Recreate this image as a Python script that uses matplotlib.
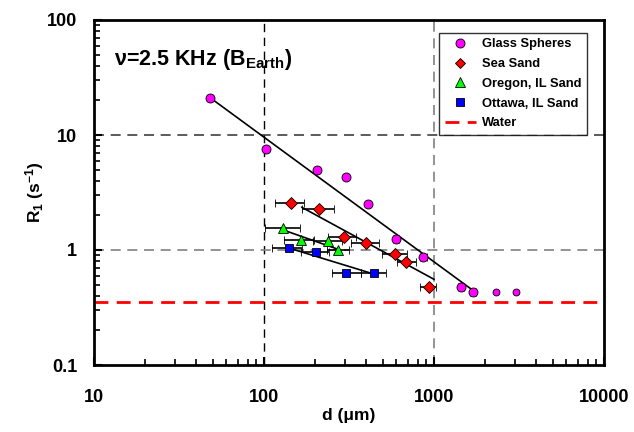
import matplotlib
matplotlib.use("Agg")
import matplotlib.pyplot as plt
from matplotlib.lines import Line2D
from matplotlib.ticker import LogLocator, NullFormatter, FixedLocator, FixedFormatter

plt.rcParams['font.family'] = ['Liberation Sans', 'DejaVu Sans']
plt.rcParams['font.weight'] = 'bold'
plt.rcParams['mathtext.fontset'] = 'custom'
plt.rcParams['mathtext.rm'] = 'Liberation Sans:bold'
plt.rcParams['mathtext.bf'] = 'Liberation Sans:bold'
plt.rcParams['mathtext.it'] = 'Liberation Sans:bold'
plt.rcParams['mathtext.default'] = 'bf'

# ---- data ----
glass_d = [48.2, 103, 204, 303, 408, 597, 865, 1439, 1707]
glass_r = [21.1, 7.55, 4.99, 4.31, 2.51, 1.25, 0.87, 0.473, 0.434]
glass_err = [0, 0, 0, 0, 0, 25, 40, 60, 70]
glass_extra_d = [2310, 3035]
glass_extra_r = [0.434, 0.434]

sea_d = [144, 212, 294, 397, 586, 684, 935]
sea_r = [2.58, 2.27, 1.29, 1.14, 0.929, 0.792, 0.477]
sea_lo = [28, 45, 57, 74, 89, 81, 111]
sea_hi = [27, 45, 56, 80, 111, 103, 98]

oregon_d = [130, 166, 238, 272]
oregon_r = [1.55, 1.23, 1.19, 1.0]
oregon_lo = [29, 34, 44, 37]
oregon_hi = [33, 30, 50, 43]

ottawa_d = [140, 203, 305, 443]
ottawa_r = [1.04, 0.955, 0.635, 0.635]
ottawa_lo = [28, 37, 53, 73]
ottawa_hi = [27, 37, 65, 81]

water_r = 0.35

fit_glass_x = [48.2, 1683]
fit_glass_y = [21.1, 0.449]
fit_sea_x = [167, 1000]
fit_sea_y = [2.35, 0.556]
fit_oregon_x = [127, 275]
fit_oregon_y = [1.51, 1.01]
fit_ottawa_x = [140, 447]
fit_ottawa_y = [1.04, 0.615]

fig = plt.figure(figsize=(6.34, 4.32), dpi=100)
ax = fig.add_axes([94/634, 1-365/432, 510/634, 345/432])
ax.set_xscale('log')
ax.set_yscale('log')
ax.set_xlim(10, 10000)
ax.set_ylim(0.1, 100)

# grid lines
ax.axvline(100, color='black', lw=1, ls=(0, (6, 4)), zorder=1)
ax.axvline(1000, color='#808080', lw=1.2, ls=(0, (6, 4)), zorder=1)
ax.axhline(10, color='#404040', lw=1.2, ls=(0, (6, 4)), zorder=1)
ax.axhline(1, color='#808080', lw=1.2, ls=(0, (6, 4)), zorder=1)

# water
ax.axhline(water_r, color='#ff0000', lw=2, ls=(0, (5, 3)), zorder=2)

# fit lines
for fx, fy in [(fit_glass_x, fit_glass_y), (fit_sea_x, fit_sea_y),
               (fit_oregon_x, fit_oregon_y), (fit_ottawa_x, fit_ottawa_y)]:
    ax.plot(fx, fy, color='black', lw=1.2, zorder=3)

ebkw = dict(ecolor='black', elinewidth=1.2, capsize=3, capthick=1.2, ls='none', zorder=4)

ax.errorbar(glass_d, glass_r, xerr=glass_err, fmt='o', ms=6.5, mfc='#ff00ff', mec='black',
            mew=0.6, **ebkw)
ax.plot(glass_extra_d, glass_extra_r, 'o', ms=5, mfc='#ff00ff', mec='black', mew=0.6, zorder=5)
ax.errorbar(sea_d, sea_r, xerr=[sea_lo, sea_hi], fmt='D', ms=6, mfc='#ff0000', mec='black',
            mew=0.6, **ebkw)
ax.errorbar(oregon_d, oregon_r, xerr=[oregon_lo, oregon_hi], fmt='^', ms=7, mfc='#00ff00',
            mec='black', mew=0.6, **ebkw)
ax.errorbar(ottawa_d, ottawa_r, xerr=[ottawa_lo, ottawa_hi], fmt='s', ms=6, mfc='#0000ff',
            mec='black', mew=0.6, **ebkw)

# ticks
ax.xaxis.set_major_locator(FixedLocator([10, 100, 1000, 10000]))
ax.xaxis.set_major_formatter(FixedFormatter(['10', '100', '1000', '10000']))
ax.yaxis.set_major_locator(FixedLocator([0.1, 1, 10, 100]))
ax.yaxis.set_major_formatter(FixedFormatter(['0.1', '1', '10', '100']))
ax.xaxis.set_minor_locator(LogLocator(base=10, subs=range(2, 10)))
ax.yaxis.set_minor_locator(LogLocator(base=10, subs=range(2, 10)))
ax.xaxis.set_minor_formatter(NullFormatter())
ax.yaxis.set_minor_formatter(NullFormatter())
ax.tick_params(which='major', direction='in', length=6, width=1.5, labelsize=13)
ax.tick_params(which='minor', direction='in', length=4, width=1.2)
ax.tick_params(axis='x', which='major', pad=17)
ax.tick_params(axis='y', which='major', pad=12)
ax.tick_params(right=False, top=False)
for s in ax.spines.values():
    s.set_linewidth(2)

ax.set_xlabel('d (μm)', fontsize=12.5, fontweight='bold', labelpad=2)
ax.set_ylabel('R$_1$ (s$^{-1}$)', fontsize=12.5, fontweight='bold', labelpad=1)

ax.text(0.04, 0.885, 'ν=2.5 KHz (B$_{Earth}$)', transform=ax.transAxes,
        fontsize=15.5, fontweight='bold', va='center', ha='left')

handles = [
    Line2D([], [], marker='o', ls='none', ms=6.5, mfc='#ff00ff', mec='black', mew=0.6),
    Line2D([], [], marker='D', ls='none', ms=5.5, mfc='#ff0000', mec='black', mew=0.6),
    Line2D([], [], marker='^', ls='none', ms=6.5, mfc='#00ff00', mec='black', mew=0.6),
    Line2D([], [], marker='s', ls='none', ms=6, mfc='#0000ff', mec='black', mew=0.6),
    Line2D([], [], color='#ff0000', lw=2, ls=(0, (5, 3))),
]
labels = ['Glass Spheres', 'Sea Sand', 'Oregon, IL Sand', 'Ottawa, IL Sand', 'Water']
leg = ax.legend(handles, labels, loc='upper right', bbox_to_anchor=(0.966, 0.962),
                fontsize=9.3, frameon=True, fancybox=False, edgecolor='black',
                handlelength=2.4, handletextpad=0.5, borderpad=0.4, labelspacing=0.6,
                borderaxespad=0)
leg.get_frame().set_linewidth(1)
for t in leg.get_texts():
    t.set_fontweight('bold')

fig.savefig('out.png', dpi=100)
